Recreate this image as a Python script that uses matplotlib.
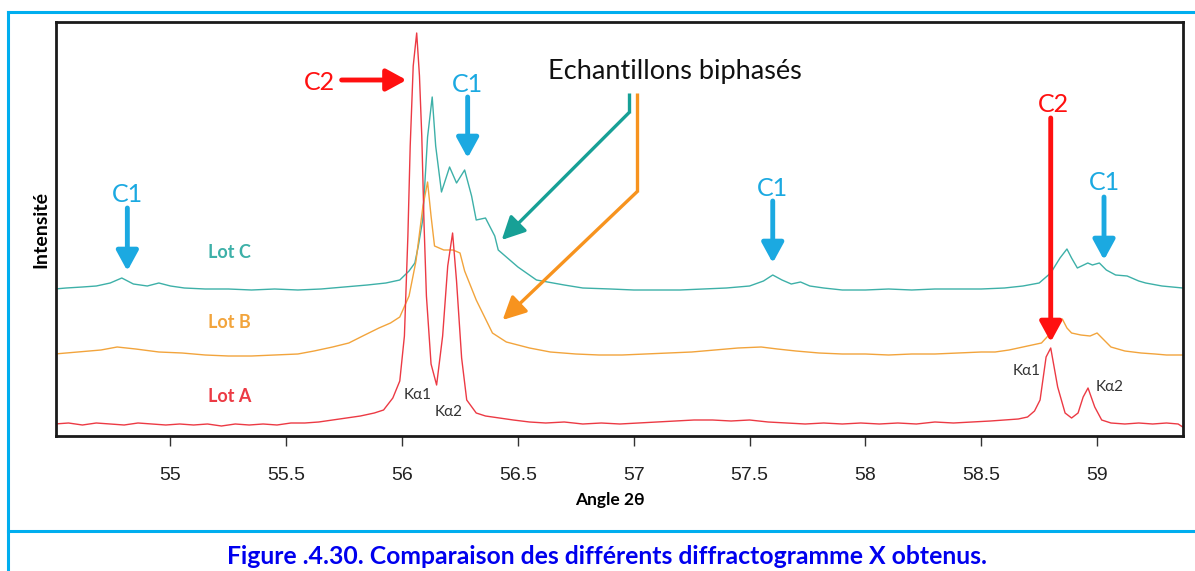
import matplotlib.pyplot as plt
from matplotlib.lines import Line2D

# 2theta (deg) / intensity (arb. units)
lotA_x = [54.50, 54.56, 54.62, 54.68, 54.74, 54.80, 54.86, 54.92, 54.98, 55.04,
          55.10, 55.16, 55.22, 55.28, 55.34, 55.40, 55.46, 55.52, 55.58, 55.64,
          55.70, 55.76, 55.82, 55.88, 55.92, 55.96, 55.99, 56.01, 56.025, 56.035,
          56.048, 56.063, 56.075, 56.085, 56.095, 56.105, 56.125, 56.149, 56.175, 56.197,
          56.218, 56.235, 56.257, 56.279, 56.32, 56.36, 56.42, 56.48, 56.55, 56.62,
          56.70, 56.78, 56.86, 56.94, 57.02, 57.10, 57.18, 57.26, 57.34, 57.42,
          57.50, 57.58, 57.66, 57.74, 57.82, 57.90, 57.98, 58.06, 58.14, 58.22,
          58.30, 58.38, 58.46, 58.54, 58.60, 58.66, 58.70, 58.73, 58.754, 58.78,
          58.80, 58.83, 58.862, 58.89, 58.918, 58.94, 58.961, 58.99, 59.02, 59.06,
          59.12, 59.18, 59.24, 59.30, 59.35, 59.37]
lotA_y = [12, 13, 11, 13, 12, 11, 13, 12, 11, 12,
          11, 12, 10, 12, 11, 12, 11, 13, 13, 14,
          16, 18, 20, 23, 26, 38, 55, 100, 200, 290,
          370, 403, 360, 300, 210, 140, 72, 51, 100, 170,
          203, 155, 78, 36, 23, 20, 18, 16, 14, 13,
          14, 12, 13, 12, 13, 14, 15, 16, 16, 15,
          16, 14, 13, 12, 13, 12, 13, 12, 13, 12,
          14, 13, 14, 15, 16, 17, 19, 25, 36, 79,
          88, 49, 23, 18, 23, 39, 48, 29, 16, 13,
          12, 13, 12, 13, 12, 9]

lotB_x = [54.50, 54.60, 54.70, 54.77, 54.85, 54.95, 55.05, 55.15, 55.25, 55.35,
          55.45, 55.55, 55.62, 55.70, 55.77, 55.83, 55.90, 55.95, 55.99, 56.03,
          56.06, 56.09, 56.11, 56.125, 56.14, 56.16, 56.18, 56.22, 56.25, 56.27,
          56.32, 56.39, 56.45, 56.55, 56.64, 56.75, 56.85, 56.95, 57.05, 57.15,
          57.25, 57.35, 57.45, 57.55, 57.62, 57.70, 57.80, 57.90, 58.00, 58.10,
          58.20, 58.30, 58.40, 58.50, 58.56, 58.62, 58.68, 58.72, 58.76, 58.80,
          58.83, 58.85, 58.87, 58.89, 58.93, 58.97, 59.00, 59.03, 59.06, 59.12,
          59.19, 59.25, 59.30, 59.37]
lotB_y = [82, 84, 86, 89, 87, 84, 83, 81, 80, 80,
          81, 82, 85, 89, 93, 100, 108, 113, 119, 140,
          175, 230, 254, 220, 190, 188, 186, 186, 183, 165,
          136, 103, 94, 88, 84, 82, 81, 81, 82, 83,
          84, 86, 88, 89, 87, 85, 83, 82, 82, 81,
          82, 82, 83, 84, 84, 86, 89, 91, 93, 103,
          113, 117, 108, 103, 101, 100, 103, 96, 89, 85,
          83, 82, 81, 81]

lotC_x = [54.50, 54.55, 54.62, 54.68, 54.74, 54.79, 54.84, 54.90, 54.95, 55.00,
          55.06, 55.15, 55.25, 55.35, 55.45, 55.55, 55.65, 55.75, 55.85, 55.93,
          55.99, 56.03, 56.055, 56.07, 56.089, 56.11, 56.13, 56.145, 56.17, 56.205,
          56.235, 56.27, 56.30, 56.32, 56.36, 56.40, 56.415, 56.50, 56.58, 56.70,
          56.78, 56.90, 57.00, 57.10, 57.20, 57.30, 57.40, 57.50, 57.56, 57.60,
          57.64, 57.68, 57.72, 57.76, 57.82, 57.90, 58.00, 58.10, 58.20, 58.30,
          58.40, 58.50, 58.60, 58.68, 58.75, 58.80, 58.84, 58.87, 58.89, 58.915,
          58.96, 58.98, 59.01, 59.04, 59.08, 59.13, 59.18, 59.21, 59.28, 59.37]
lotC_y = [147, 148, 149, 150, 153, 158, 152, 150, 153, 150,
          148, 147, 147, 146, 147, 146, 147, 149, 151, 153,
          156, 165, 173, 190, 216, 299, 339, 290, 244, 269,
          253, 266, 240, 216, 218, 200, 186, 169, 156, 151,
          148, 147, 146, 146, 146, 147, 148, 150, 155, 161,
          156, 152, 154, 150, 148, 146, 146, 147, 146, 147,
          147, 147, 148, 150, 153, 163, 178, 187, 178, 168,
          173, 171, 173, 166, 161, 160, 155, 153, 150, 148]

xticks = [55, 55.5, 56, 56.5, 57, 57.5, 58, 58.5, 59]
xtick_labels = ['55', '55.5', '56', '56.5', '57', '57.5', '58', '58.5', '59']

red = '#EC3A44'
orange = '#F2A43C'
teal = '#3DB0A8'
sky = '#1BA9E1'
font = ['Lato', 'DejaVu Sans']

fig = plt.figure(figsize=(11.95, 5.71), dpi=100)
ax = fig.add_axes([56/1195, 1-436/571, (1183-56)/1195, (436-22)/571])

ax.plot(lotC_x, lotC_y, color=teal, lw=1.0)
ax.plot(lotB_x, lotB_y, color=orange, lw=1.0)
ax.plot(lotA_x, lotA_y, color=red, lw=1.0)

ax.set_xlim(54.506, 59.371)
ax.set_ylim(0, 414)
ax.set_yticks([])
ax.set_xticks(xticks)
ax.set_xticklabels(xtick_labels, family=['Liberation Sans'], fontsize=14, color='#222222')
ax.tick_params(axis='x', direction='out', length=7, width=1, pad=15, color='#333333')
for s in ax.spines.values():
    s.set_linewidth(2)
    s.set_color('#1a1a1a')

ax.set_xlabel('Angle 2θ', family=font, fontweight='bold', fontsize=12.5)
ax.xaxis.set_label_coords(0.4916, -0.135)
ax.set_ylabel('Intensité', family=font, fontweight='bold', fontsize=14, labelpad=5)

# lot labels
ax.text(55.255, 184, 'Lot C', color=teal, family=font, fontweight='bold', fontsize=13, ha='center', va='center')
ax.text(55.255, 113, 'Lot B', color=orange, family=font, fontweight='bold', fontsize=13, ha='center', va='center')
ax.text(55.255, 39, 'Lot A', color=red, family=font, fontweight='bold', fontsize=13, ha='center', va='center')

# K-alpha labels
for xx, yy, t in [(56.067, 41, 'Kα1'), (56.20, 24, 'Kα2'), (58.698, 65, 'Kα1'), (59.056, 49, 'Kα2')]:
    ax.text(xx, yy, t, family=font, fontsize=11, color='#333333', ha='center', va='center')

# phase arrows
def big_arrow(x0, y0, x1, y1, c):
    ax.annotate('', xy=(x1, y1), xytext=(x0, y0),
                arrowprops=dict(arrowstyle='-|>,head_length=0.55,head_width=0.3', lw=3.5,
                                color=c, mutation_scale=22, shrinkA=0, shrinkB=0))

ax.text(55.644, 354, 'C2', color='#FF1010', family=font, fontsize=18, ha='center', va='center')
big_arrow(55.739, 356, 56.019, 356, '#FF1010')
ax.text(58.81, 331, 'C2', color='#FF1010', family=font, fontsize=18, ha='center', va='center')
big_arrow(58.80, 318, 58.80, 94, '#FF1010')

for xx, yt, y0, y1 in [(54.814, 241, 228, 165), (56.283, 351, 339, 278),
                       (57.60, 248, 235, 173), (59.03, 253, 239, 176)]:
    ax.text(xx, yt, 'C1', color=sky, family=font, fontsize=18, ha='center', va='center')
    big_arrow(xx, y0, xx, y1, sky)

# biphase arrows
ax.text(57.177, 364, 'Echantillons biphasés', family=font, fontsize=19.5, color='#111111',
        ha='center', va='center')
ax.plot([56.978, 56.978], [343, 323], color='#17A096', lw=2.4, solid_capstyle='butt')
ax.annotate('', xy=(56.43, 196), xytext=(56.978, 323),
            arrowprops=dict(arrowstyle='-|>,head_length=0.7,head_width=0.35', lw=2.4,
                            color='#17A096', mutation_scale=20, shrinkA=0, shrinkB=0))
ax.plot([57.013, 57.013], [343, 244], color='#F7931E', lw=2.4, solid_capstyle='butt')
ax.annotate('', xy=(56.434, 116), xytext=(57.013, 244),
            arrowprops=dict(arrowstyle='-|>,head_length=0.7,head_width=0.35', lw=2.4,
                            color='#F7931E', mutation_scale=20, shrinkA=0, shrinkB=0))

# outer frame and caption
fc = '#00AEEF'
fig.add_artist(Line2D([8/1195, 8/1195], [0, 1-12/571], transform=fig.transFigure, color=fc, lw=2.2))
fig.add_artist(Line2D([8/1195, 1], [1-12/571, 1-12/571], transform=fig.transFigure, color=fc, lw=2.2))
fig.add_artist(Line2D([8/1195, 1], [1-531/571, 1-531/571], transform=fig.transFigure, color=fc, lw=2.2))
fig.text(607/1195, 1-557/571, 'Figure .4.30. Comparaison des différents diffractogramme X obtenus.',
         family=font, fontweight='bold', fontsize=17.8, color='#0000EE', ha='center', va='center')

fig.savefig('out.png', dpi=100)
